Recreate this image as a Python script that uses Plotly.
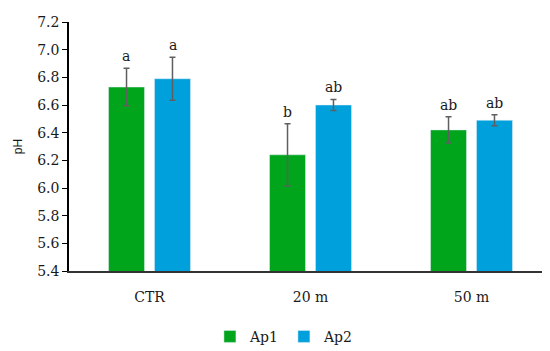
import plotly.graph_objects as go

categories = ["CTR", "20 m", "50 m"]
ap1_values = [6.73, 6.24, 6.42]
ap1_errors = [0.135, 0.225, 0.095]
ap2_values = [6.79, 6.60, 6.49]
ap2_errors = [0.155, 0.04, 0.04]
ap1_letters = ["a", "b", "ab"]
ap2_letters = ["a", "ab", "ab"]
y_ticks = [5.4, 5.6, 5.8, 6.0, 6.2, 6.4, 6.6, 6.8, 7.0, 7.2]

green = "#00A51C"
blue = "#00A0DC"
err_col = "#5F5F5F"
serif = "DejaVu Serif"

fig = go.Figure()
fig.add_trace(go.Bar(
    name="Ap1", x=categories, y=ap1_values, marker_color=green,
    error_y=dict(type="data", array=ap1_errors, color=err_col, thickness=1.5, width=3),
))
fig.add_trace(go.Bar(
    name="Ap2", x=categories, y=ap2_values, marker_color=blue,
    error_y=dict(type="data", array=ap2_errors, color=err_col, thickness=1.5, width=3),
))

offset = 0.143
annotations = []
for i in range(len(categories)):
    annotations.append(dict(x=i - offset, y=ap1_values[i] + ap1_errors[i], text=ap1_letters[i],
                            showarrow=False, yanchor="bottom", yshift=2,
                            font=dict(family=serif, size=14, color="#1a1a1a")))
    annotations.append(dict(x=i + offset, y=ap2_values[i] + ap2_errors[i], text=ap2_letters[i],
                            showarrow=False, yanchor="bottom", yshift=2,
                            font=dict(family=serif, size=14, color="#1a1a1a")))

fig.update_layout(
    width=550, height=351,
    margin=dict(l=61, r=6, t=12, b=72),
    paper_bgcolor="white", plot_bgcolor="white",
    barmode="group", bargap=0.429, bargroupgap=0.217,
    showlegend=True,
    legend=dict(orientation="h", x=0.445, xanchor="center", y=-0.2, yanchor="top",
                font=dict(family=serif, size=14, color="#1a1a1a"),
                itemwidth=30, traceorder="normal"),
    annotations=annotations,
    yaxis=dict(range=[5.4, 7.2], tickvals=y_ticks, ticktext=[f"{v:.1f}" for v in y_ticks],
               showline=True, linecolor="black", linewidth=1.5,
               ticks="outside", ticklen=5, tickcolor="black",
               showgrid=False, zeroline=False,
               tickfont=dict(family=serif, size=14, color="#1a1a1a"),
               title=dict(text="pH", font=dict(family="Liberation Sans", size=12, color="#1a1a1a"), standoff=12)),
    xaxis=dict(showline=True, linecolor="#333333", linewidth=1.5,
               ticks="outside", ticklen=12, tickcolor="rgba(0,0,0,0)",
               tickfont=dict(family=serif, size=14, color="#1a1a1a")),
)

fig.write_html("out.html")
